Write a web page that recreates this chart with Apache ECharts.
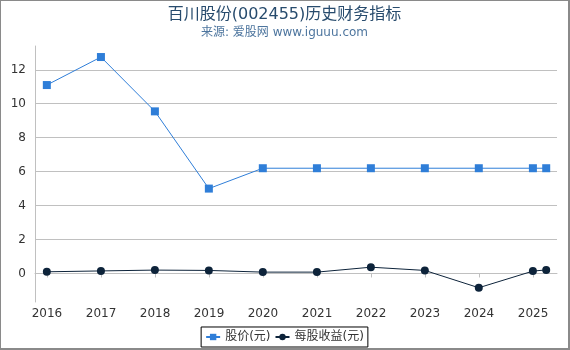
<!DOCTYPE html>
<html>
<head>
<meta charset="utf-8">
<script src="https://cdn.jsdelivr.net/npm/echarts@6/dist/echarts.min.js"></script>
<style>
    html, body {
        margin: 0;
        padding: 0;
        background: #fff;
    }
    #chart {
        width: 570px;
        height: 350px;
        box-sizing: border-box;
        border-style: solid;
        border-color: #8a8a8a;
        border-width: 1px 2px 2px 1px;
    }
</style>
</head>
<body>
<div id="chart"></div>
<script>
// 报告期
const dates = ['2015-12-31', '2016-12-31', '2017-12-31', '2018-12-31', '2019-12-31', '2020-12-31', '2021-12-31', '2022-12-31', '2023-12-31', '2024-12-31', '2025-03-31']
// 股价(元)
const price = [11.1, 12.75, 9.55, 5.0, 6.2, 6.2, 6.2, 6.2, 6.2, 6.2, 6.2]
// 每股收益(元)
const eps = [0.1, 0.15, 0.2, 0.18, 0.08, 0.08, 0.37, 0.18, -0.84, 0.14, 0.21]

const pair = (arr) => dates.map((d, i) => [d, arr[i]])

const chart = echarts.init(document.getElementById('chart'), null, { renderer: 'canvas' })

chart.setOption({
    animation: false,
    title: {
        text: '百川股份(002455)历史财务指标',
        subtext: '来源: 爱股网 www.iguuu.com',
        left: 'center',
        top: 1,
        itemGap: 4,
        textStyle: {
            fontFamily: 'DejaVu Sans, Noto Sans CJK SC',
            fontSize: 16,
            fontWeight: 'normal',
            color: '#274b6d',
        },
        subtextStyle: {
            fontFamily: 'DejaVu Sans, Noto Sans CJK SC',
            fontSize: 12,
            color: '#4d759e',
        },
    },
    legend: {
        bottom: 1,
        left: 'center',
        borderColor: '#000',
        borderWidth: 1,
        padding: [4, 4],
        itemGap: 4,
        itemWidth: 14,
        itemHeight: 8,
        textStyle: {
            fontFamily: 'DejaVu Sans, Noto Sans CJK SC',
            fontSize: 12,
            color: '#333',
        },
        data: ['股价(元)', '每股收益(元)'],
    },
    grid: {
        left: 34,
        right: 11,
        top: 45,
        bottom: 46,
        containLabel: false,
    },
    xAxis: {
        type: 'time',
        min: '2015-10-12',
        max: '2025-06-12',
        splitNumber: 10,
        axisLine: { lineStyle: { color: '#c0c0c0' } },
        axisTick: { show: true, length: 4, lineStyle: { color: '#c0c0c0' } },
        splitLine: { show: false },
        axisLabel: {
            formatter: '{yyyy}',
            color: '#333',
            fontSize: 12,
            fontFamily: 'DejaVu Sans',
            margin: 6,
        },
    },
    yAxis: {
        type: 'value',
        min: -1.68,
        max: 13.4,
        splitNumber: 7,
        axisLine: { show: true, lineStyle: { color: '#c0c0c0' } },
        axisTick: { show: false },
        splitLine: { showMinLine: false, showMaxLine: false, lineStyle: { color: '#c0c0c0' } },
        axisLabel: {
            showMinLabel: false,
            showMaxLabel: false,
            color: '#333',
            fontSize: 12,
            fontFamily: 'DejaVu Sans',
            margin: 9,
        },
    },
    series: [
        {
            name: '股价(元)',
            type: 'line',
            data: pair(price),
            symbol: 'rect',
            symbolSize: 8,
            color: '#2f7ed8',
            lineStyle: { width: 1, color: '#2f7ed8' },
            itemStyle: { color: '#2f7ed8' },
        },
        {
            name: '每股收益(元)',
            type: 'line',
            data: pair(eps),
            symbol: 'circle',
            symbolSize: 8,
            color: '#0d233a',
            lineStyle: { width: 1, color: '#0d233a' },
            itemStyle: { color: '#0d233a' },
        },
    ],
})
</script>
</body>
</html>
